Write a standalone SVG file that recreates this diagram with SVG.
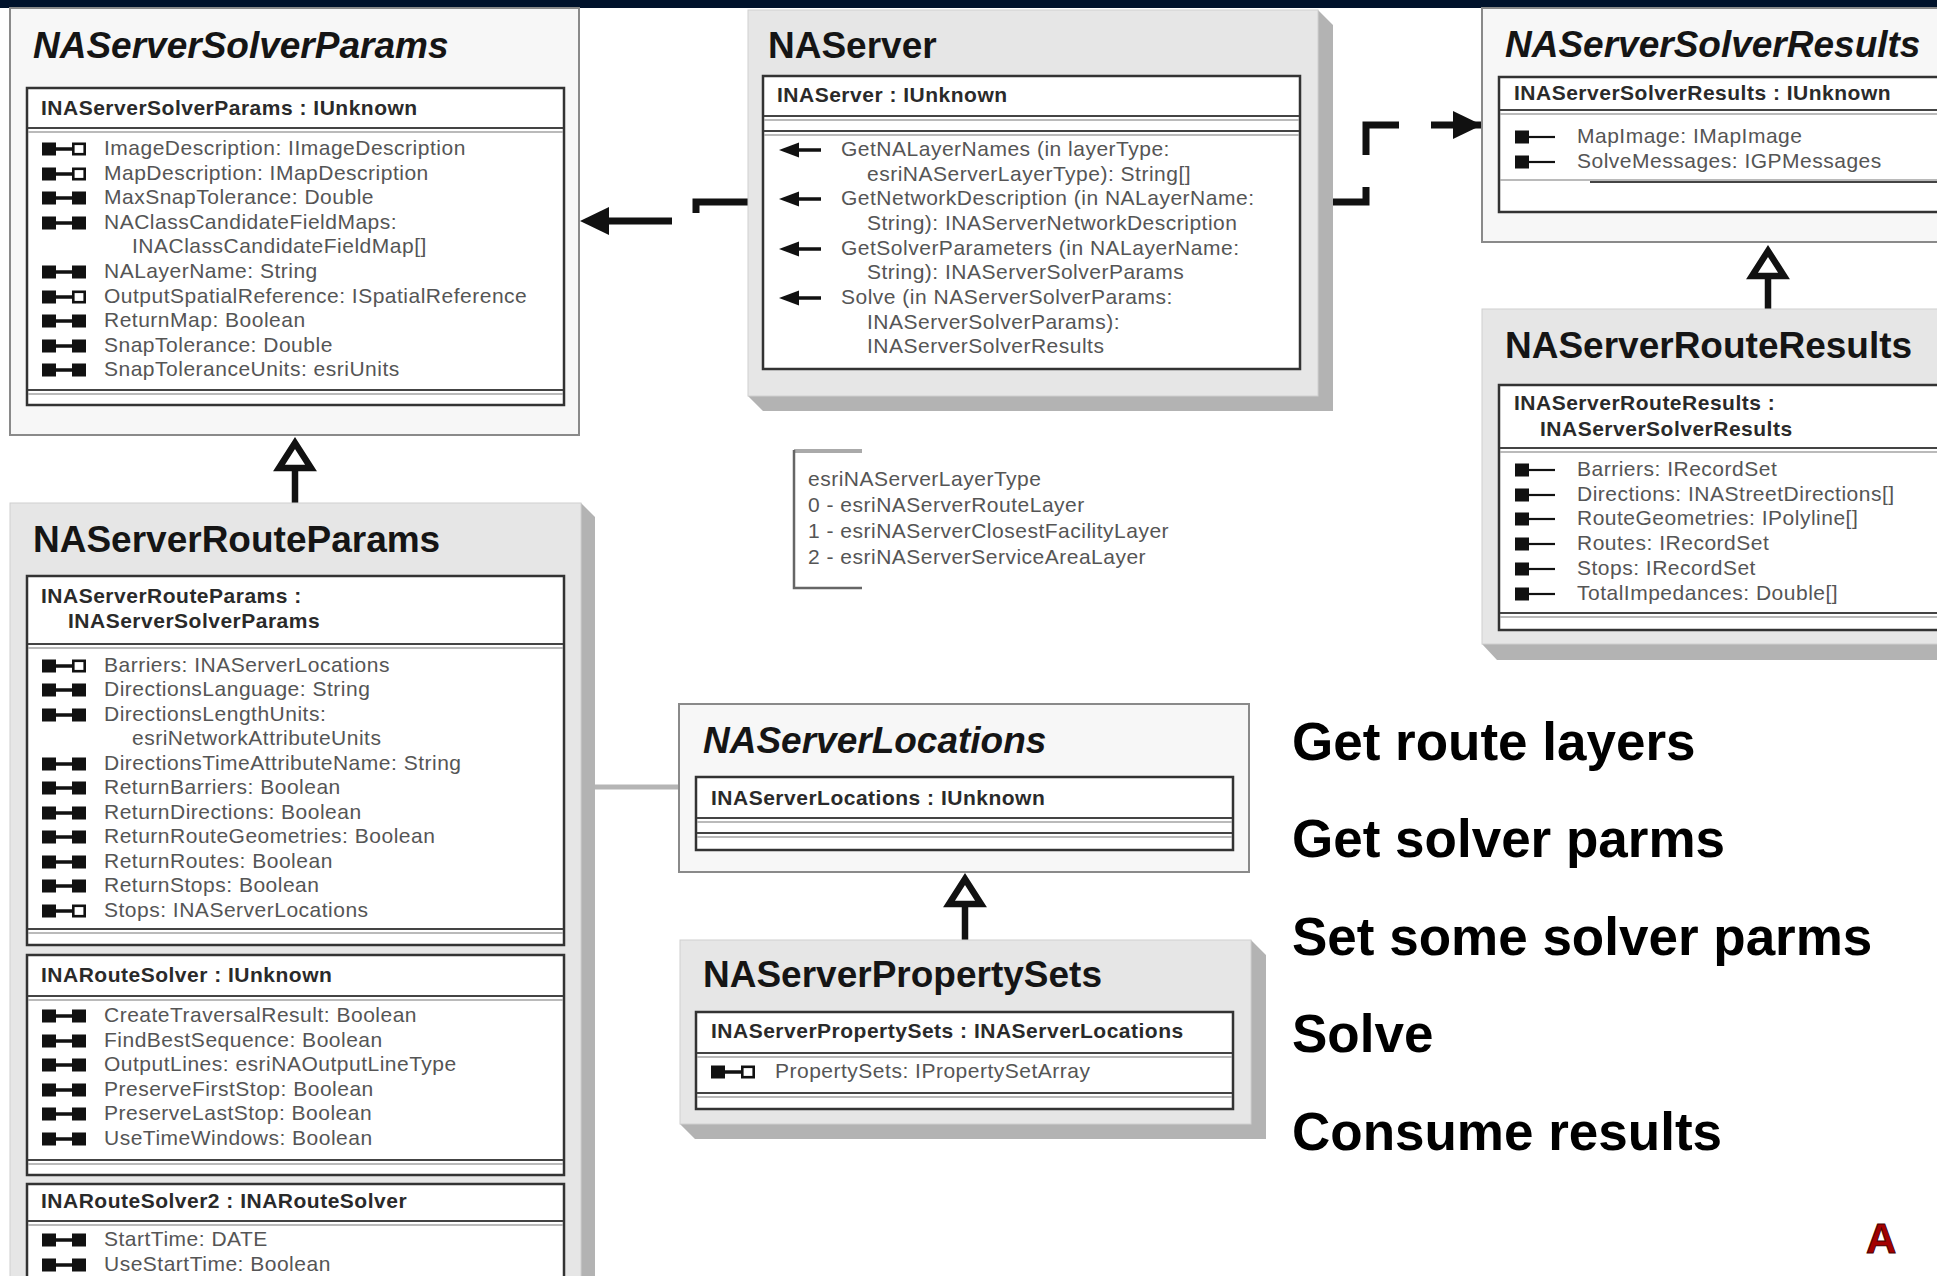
<svg xmlns="http://www.w3.org/2000/svg" width="1937" height="1276" viewBox="0 0 1937 1276">
<style>
.t{font-family:"Liberation Sans",Arial,sans-serif;font-weight:bold;font-size:37px;fill:#151515}
.ti{font-style:italic}
.h{font-family:"Liberation Sans",Arial,sans-serif;font-weight:bold;font-size:21px;letter-spacing:0.5px;fill:#2a2a2a}
.a{font-family:"Liberation Sans",Arial,sans-serif;font-size:21px;letter-spacing:0.5px;fill:#555}
.b{font-family:"Liberation Sans",Arial,sans-serif;font-weight:bold;font-size:53px;fill:#000}
.lt{fill:#f7f7f7;stroke:#8a8a8a;stroke-width:2}
.gr{fill:#e6e6e6;stroke:#d0d0d0;stroke-width:1}
.sh{fill:#b3b3b3}
.ib{fill:#fff;stroke:#333;stroke-width:2.5}
.s1{stroke:#444;stroke-width:2}
.s2{stroke:#a3a3a3;stroke-width:1.5}
.dc{fill:none;stroke:#111;stroke-width:7;stroke-dasharray:63 32}
.gen{fill:#fff;stroke:#111;stroke-width:6.5}
.gl{stroke:#111;stroke-width:6.5}
</style>
<defs>
<marker id="ah" markerUnits="userSpaceOnUse" markerWidth="30" markerHeight="28" refX="29" refY="14" orient="auto"><path d="M0,0 L29,14 L0,28 z" fill="#111"/></marker>
<g id="rw"><rect x="0" y="-6.5" width="14" height="13" fill="#111"/><path d="M13 0H31" stroke="#111" stroke-width="3.5"/><rect x="30" y="-6.5" width="14" height="13" fill="#111"/></g>
<g id="rr"><rect x="0" y="-6.5" width="14" height="13" fill="#111"/><path d="M13 0H31" stroke="#111" stroke-width="3.5"/><rect x="31.3" y="-5.2" width="11.4" height="10.4" fill="#fff" stroke="#111" stroke-width="2.6"/></g>
<g id="ro"><rect x="0" y="-6.5" width="14" height="13" fill="#111"/><path d="M13 0H40" stroke="#111" stroke-width="2.2"/></g>
<g id="mt"><path d="M0 0L20 -7.5V7.5Z" fill="#111"/><path d="M18 0H42" stroke="#111" stroke-width="3.5"/></g>
</defs>
<rect x="0" y="0" width="1937" height="1276" fill="#fff"/>
<rect x="0" y="0" width="1937" height="8" fill="#00122b"/>

<g id="connectors">
<path class="dc" d="M748 202H696V221H580" marker-end="url(#ah)"/>
<path class="dc" d="M1318 202H1366V125H1482" marker-end="url(#ah)"/>
<line class="gl" x1="295" y1="468" x2="295" y2="503"/>
<polygon class="gen" points="295,443 279,468 311,468"/>
<line class="gl" x1="1768" y1="276" x2="1768" y2="309"/>
<polygon class="gen" points="1768,251 1752,276 1784,276"/>
<line class="gl" x1="965" y1="904" x2="965" y2="940"/>
<polygon class="gen" points="965,879 949,904 981,904"/>
<line x1="595" y1="787" x2="679" y2="787" stroke="#b5b5b5" stroke-width="5"/>
</g>

<g id="NAServerSolverParams">
<rect class="lt" x="10" y="8" width="569" height="427"/>
<text class="t ti" x="33" y="58">NAServerSolverParams</text>
<rect class="ib" x="27" y="88" width="537" height="317"/>
<text class="h" x="41" y="115">INAServerSolverParams : IUnknown</text>
<line class="s1" x1="28" y1="128" x2="563" y2="128"/><line class="s2" x1="28" y1="132" x2="563" y2="132"/>
<line class="s1" x1="28" y1="390" x2="563" y2="390"/><line class="s2" x1="28" y1="394" x2="563" y2="394"/>
<use href="#rr" x="42" y="149"/><text class="a" x="104" y="155">ImageDescription: IImageDescription</text>
<use href="#rr" x="42" y="174"/><text class="a" x="104" y="180">MapDescription: IMapDescription</text>
<use href="#rw" x="42" y="198"/><text class="a" x="104" y="204">MaxSnapTolerance: Double</text>
<use href="#rw" x="42" y="223"/><text class="a" x="104" y="229">NAClassCandidateFieldMaps:</text>
<text class="a" x="132" y="253">INAClassCandidateFieldMap[]</text>
<use href="#rw" x="42" y="272"/><text class="a" x="104" y="278">NALayerName: String</text>
<use href="#rr" x="42" y="297"/><text class="a" x="104" y="303">OutputSpatialReference: ISpatialReference</text>
<use href="#rw" x="42" y="321"/><text class="a" x="104" y="327">ReturnMap: Boolean</text>
<use href="#rw" x="42" y="346"/><text class="a" x="104" y="352">SnapTolerance: Double</text>
<use href="#rw" x="42" y="370"/><text class="a" x="104" y="376">SnapToleranceUnits: esriUnits</text>
</g>

<g id="NAServer">
<polygon class="sh" points="1318,10 1333,25 1333,411 763,411 748,396 1318,396"/>
<rect class="gr" x="748" y="10" width="570" height="386"/>
<text class="t" x="768" y="58">NAServer</text>
<rect class="ib" x="763" y="76" width="537" height="293"/>
<text class="h" x="777" y="102">INAServer : IUnknown</text>
<line class="s1" x1="764" y1="116" x2="1299" y2="116"/><line class="s2" x1="764" y1="120" x2="1299" y2="120"/>
<line class="s1" x1="764" y1="131" x2="1299" y2="131"/><line class="s2" x1="764" y1="135" x2="1299" y2="135"/>
<use href="#mt" x="779" y="150"/><text class="a" x="841" y="156">GetNALayerNames (in layerType:</text>
<text class="a" x="867" y="181">esriNAServerLayerType): String[]</text>
<use href="#mt" x="779" y="199"/><text class="a" x="841" y="205">GetNetworkDescription (in NALayerName:</text>
<text class="a" x="867" y="230">String): INAServerNetworkDescription</text>
<use href="#mt" x="779" y="249"/><text class="a" x="841" y="255">GetSolverParameters (in NALayerName:</text>
<text class="a" x="867" y="279">String): INAServerSolverParams</text>
<use href="#mt" x="779" y="298"/><text class="a" x="841" y="304">Solve (in NAServerSolverParams:</text>
<text class="a" x="867" y="329">INAServerSolverParams):</text>
<text class="a" x="867" y="353">INAServerSolverResults</text>
</g>

<g id="NAServerSolverResults">
<rect class="lt" x="1482" y="8" width="470" height="234"/>
<text class="t ti" x="1505" y="57">NAServerSolverResults</text>
<rect class="ib" x="1499" y="77" width="460" height="135"/>
<text class="h" x="1514" y="100">INAServerSolverResults : IUnknown</text>
<line class="s1" x1="1500" y1="110" x2="1950" y2="110"/><line class="s2" x1="1500" y1="114" x2="1950" y2="114"/>
<use href="#ro" x="1515" y="137"/><text class="a" x="1577" y="143">MapImage: IMapImage</text>
<use href="#ro" x="1515" y="162"/><text class="a" x="1577" y="168">SolveMessages: IGPMessages</text>
<line class="s2" x1="1500" y1="180" x2="1950" y2="180"/><line class="s1" x1="1590" y1="182" x2="1950" y2="182"/>
</g>

<g id="NAServerRouteResults">
<polygon class="sh" points="1482,644 1497,660 1950,660 1950,644"/>
<rect class="gr" x="1482" y="309" width="470" height="335"/>
<text class="t" x="1505" y="358">NAServerRouteResults</text>
<rect class="ib" x="1499" y="385" width="460" height="245"/>
<text class="h" x="1514" y="410">INAServerRouteResults :</text>
<text class="h" x="1540" y="436">INAServerSolverResults</text>
<line class="s1" x1="1500" y1="448" x2="1950" y2="448"/><line class="s2" x1="1500" y1="452" x2="1950" y2="452"/>
<use href="#ro" x="1515" y="470"/><text class="a" x="1577" y="476">Barriers: IRecordSet</text>
<use href="#ro" x="1515" y="495"/><text class="a" x="1577" y="501">Directions: INAStreetDirections[]</text>
<use href="#ro" x="1515" y="519"/><text class="a" x="1577" y="525">RouteGeometries: IPolyline[]</text>
<use href="#ro" x="1515" y="544"/><text class="a" x="1577" y="550">Routes: IRecordSet</text>
<use href="#ro" x="1515" y="569"/><text class="a" x="1577" y="575">Stops: IRecordSet</text>
<use href="#ro" x="1515" y="594"/><text class="a" x="1577" y="600">TotalImpedances: Double[]</text>
<line class="s1" x1="1500" y1="613" x2="1950" y2="613"/><line class="s2" x1="1500" y1="617" x2="1950" y2="617"/>
</g>

<g id="NAServerRouteParams">
<polygon class="sh" points="581,503 595,517 595,1290 581,1290"/>
<rect class="gr" x="10" y="503" width="571" height="790"/>
<text class="t" x="33" y="552">NAServerRouteParams</text>
<rect class="ib" x="27" y="576" width="537" height="369"/>
<text class="h" x="41" y="603">INAServerRouteParams :</text>
<text class="h" x="68" y="628">INAServerSolverParams</text>
<line class="s1" x1="28" y1="644" x2="563" y2="644"/><line class="s2" x1="28" y1="648" x2="563" y2="648"/>
<use href="#rr" x="42" y="666"/><text class="a" x="104" y="672">Barriers: INAServerLocations</text>
<use href="#rw" x="42" y="690"/><text class="a" x="104" y="696">DirectionsLanguage: String</text>
<use href="#rw" x="42" y="715"/><text class="a" x="104" y="721">DirectionsLengthUnits:</text>
<text class="a" x="132" y="745">esriNetworkAttributeUnits</text>
<use href="#rw" x="42" y="764"/><text class="a" x="104" y="770">DirectionsTimeAttributeName: String</text>
<use href="#rw" x="42" y="788"/><text class="a" x="104" y="794">ReturnBarriers: Boolean</text>
<use href="#rw" x="42" y="813"/><text class="a" x="104" y="819">ReturnDirections: Boolean</text>
<use href="#rw" x="42" y="837"/><text class="a" x="104" y="843">ReturnRouteGeometries: Boolean</text>
<use href="#rw" x="42" y="862"/><text class="a" x="104" y="868">ReturnRoutes: Boolean</text>
<use href="#rw" x="42" y="886"/><text class="a" x="104" y="892">ReturnStops: Boolean</text>
<use href="#rr" x="42" y="911"/><text class="a" x="104" y="917">Stops: INAServerLocations</text>
<line class="s1" x1="28" y1="929" x2="563" y2="929"/><line class="s2" x1="28" y1="933" x2="563" y2="933"/>
<rect class="ib" x="27" y="955" width="537" height="220"/>
<text class="h" x="41" y="982">INARouteSolver : IUnknown</text>
<line class="s1" x1="28" y1="996" x2="563" y2="996"/><line class="s2" x1="28" y1="1000" x2="563" y2="1000"/>
<use href="#rw" x="42" y="1016"/><text class="a" x="104" y="1022">CreateTraversalResult: Boolean</text>
<use href="#rw" x="42" y="1041"/><text class="a" x="104" y="1047">FindBestSequence: Boolean</text>
<use href="#rw" x="42" y="1065"/><text class="a" x="104" y="1071">OutputLines: esriNAOutputLineType</text>
<use href="#rw" x="42" y="1090"/><text class="a" x="104" y="1096">PreserveFirstStop: Boolean</text>
<use href="#rw" x="42" y="1114"/><text class="a" x="104" y="1120">PreserveLastStop: Boolean</text>
<use href="#rw" x="42" y="1139"/><text class="a" x="104" y="1145">UseTimeWindows: Boolean</text>
<line class="s1" x1="28" y1="1160" x2="563" y2="1160"/><line class="s2" x1="28" y1="1164" x2="563" y2="1164"/>
<rect class="ib" x="27" y="1184" width="537" height="120"/>
<text class="h" x="41" y="1208">INARouteSolver2 : INARouteSolver</text>
<line class="s1" x1="28" y1="1221" x2="563" y2="1221"/><line class="s2" x1="28" y1="1225" x2="563" y2="1225"/>
<use href="#rw" x="42" y="1240"/><text class="a" x="104" y="1246">StartTime: DATE</text>
<use href="#rw" x="42" y="1265"/><text class="a" x="104" y="1271">UseStartTime: Boolean</text>
</g>

<g id="esriNAServerLayerType">
<path d="M862 451H794" stroke="#aaa" stroke-width="4" fill="none"/>
<path d="M794 450V588H862" stroke="#666" stroke-width="2.5" fill="none"/>
<text class="a" x="808" y="486">esriNAServerLayerType</text>
<text class="a" x="808" y="512">0 - esriNAServerRouteLayer</text>
<text class="a" x="808" y="538">1 - esriNAServerClosestFacilityLayer</text>
<text class="a" x="808" y="564">2 - esriNAServerServiceAreaLayer</text>
</g>

<g id="NAServerLocations">
<rect class="lt" x="679" y="704" width="570" height="168"/>
<text class="t ti" x="703" y="753">NAServerLocations</text>
<rect class="ib" x="696" y="777" width="537" height="73"/>
<text class="h" x="711" y="805">INAServerLocations : IUnknown</text>
<line class="s1" x1="697" y1="818" x2="1232" y2="818"/><line class="s2" x1="697" y1="822" x2="1232" y2="822"/>
<line class="s1" x1="697" y1="833" x2="1232" y2="833"/><line class="s2" x1="697" y1="837" x2="1232" y2="837"/>
</g>

<g id="NAServerPropertySets">
<polygon class="sh" points="1251,940 1266,955 1266,1139 695,1139 680,1124 1251,1124"/>
<rect class="gr" x="680" y="940" width="571" height="184"/>
<text class="t" x="703" y="987">NAServerPropertySets</text>
<rect class="ib" x="696" y="1012" width="537" height="97"/>
<text class="h" x="711" y="1038">INAServerPropertySets : INAServerLocations</text>
<line class="s1" x1="697" y1="1053" x2="1232" y2="1053"/><line class="s2" x1="697" y1="1057" x2="1232" y2="1057"/>
<use href="#rr" x="711" y="1072"/><text class="a" x="775" y="1078">PropertySets: IPropertySetArray</text>
<line class="s1" x1="697" y1="1093" x2="1232" y2="1093"/><line class="s2" x1="697" y1="1097" x2="1232" y2="1097"/>
</g>

<g id="steps">
<text class="b" x="1292" y="760">Get route layers</text>
<text class="b" x="1292" y="857">Get solver parms</text>
<text class="b" x="1292" y="955">Set some solver parms</text>
<text class="b" x="1292" y="1052">Solve</text>
<text class="b" x="1292" y="1150">Consume results</text>
</g>
<text x="1866" y="1253" font-family="Liberation Sans, Arial, sans-serif" font-weight="bold" font-size="42" fill="#a30000" stroke="#4a0000" stroke-width="1">A</text>
</svg>
